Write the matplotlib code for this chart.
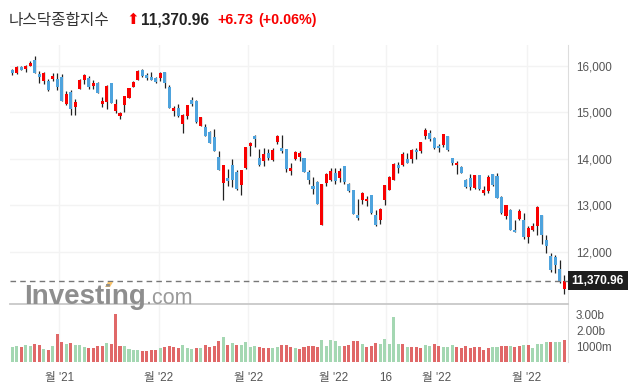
import numpy as np
import matplotlib.pyplot as plt
import matplotlib.transforms as mtransforms
from matplotlib.patches import Polygon

plt.rcParams['font.family'] = ['Liberation Sans', 'Noto Sans CJK KR', 'DejaVu Sans']

# daily candles (index points)
opens = [15914, 15856, 15971, 15942, 16007, 16130, 15827, 15683, 15669, 15719,
         15719, 15755, 15186, 15438, 15122, 15510, 15705, 15748, 15575, 15633,
         15186, 15230, 15633, 15035, 14927, 15150, 15316, 15554, 15705, 15914,
         15806, 15755, 15741, 15748, 15871, 15546, 15035, 15093, 14754, 14927,
         15266, 15251, 14711, 14682, 14574, 14459, 14034, 13480, 13595, 13855,
         13710, 13437, 13797, 14279, 14488, 14027, 13956, 14121, 13970, 14366,
         14229, 14207, 13739, 14000, 14041, 14013, 13725, 13415, 13509, 12581,
         13480, 13552, 13703, 13595, 13840, 13451, 13322, 12782, 13120, 13084,
         13214, 12782, 12689, 13106, 13322, 13552, 13862, 13862, 13991, 14002,
         14193, 14171, 14495, 14546, 14452, 14272, 14287, 14495, 14006, 13855,
         13826, 13538, 13588, 13372, 13646, 13264, 13307, 13667, 13624, 13178,
         12760, 12904, 12473, 12710, 12689, 12314, 12473, 12544, 12782, 12242,
         11896, 11881, 11630, 11190]
highs = [15935, 15993, 16007, 16029, 16115, 16216, 15899, 15878, 15719, 15842,
         15842, 15820, 15460, 15474, 15280, 15712, 15820, 15777, 15698, 15654,
         15323, 15597, 15633, 15280, 15006, 15352, 15525, 15669, 15914, 15928,
         15842, 15863, 15755, 15863, 15878, 15582, 15143, 15172, 14956, 15165,
         15323, 15266, 14898, 14747, 14589, 14632, 14164, 13855, 13775, 13991,
         13768, 13768, 14243, 14358, 14517, 14214, 14222, 14214, 14222, 14502,
         14502, 14207, 13912, 14157, 14164, 14013, 13753, 13617, 13523, 13466,
         13696, 13811, 13811, 13797, 13840, 13480, 13330, 13142, 13293, 13192,
         13228, 12905, 12948, 13430, 13624, 13912, 13934, 14135, 14128, 14200,
         14229, 14358, 14661, 14618, 14474, 14308, 14524, 14495, 14027, 13955,
         13847, 13574, 13682, 13660, 13660, 13408, 13646, 13682, 13703, 13200,
         13006, 12920, 12689, 12926, 12832, 12544, 12616, 12976, 12782, 12350,
         11967, 11918, 11824, 11500]
lows = [15798, 15834, 15921, 15863, 16007, 15856, 15626, 15604, 15467, 15676,
        15474, 15251, 15158, 14934, 14934, 15510, 15618, 15510, 15496, 15424,
        15107, 15064, 15193, 14978, 14862, 15014, 15316, 15539, 15705, 15770,
        15690, 15690, 15633, 15676, 15518, 15100, 14920, 14891, 14546, 14848,
        15136, 14776, 14697, 14488, 14330, 14157, 13768, 13106, 13422, 13394,
        13322, 13228, 13783, 14070, 14258, 13847, 13847, 13970, 13948, 14323,
        14114, 13718, 13653, 13977, 13941, 13710, 13466, 13250, 13019, 12570,
        13408, 13523, 13451, 13494, 13466, 13293, 12818, 12674, 13034, 12977,
        12800, 12544, 12602, 12998, 13322, 13538, 13696, 13840, 13912, 13898,
        14005, 14114, 14416, 14387, 14207, 14142, 14258, 14171, 13862, 13682,
        13696, 13379, 13322, 13350, 13336, 13221, 13271, 13408, 13163, 12810,
        12710, 12460, 12410, 12689, 12278, 12184, 12443, 12350, 12170, 11967,
        11558, 11536, 11320, 11080]
closes = [15856, 15971, 15921, 15999, 16065, 15856, 15770, 15849, 15482, 15784,
          15554, 15251, 15395, 15078, 15222, 15698, 15798, 15539, 15633, 15424,
          15244, 15568, 15193, 15179, 14985, 15352, 15525, 15654, 15892, 15791,
          15748, 15705, 15662, 15849, 15640, 15100, 15093, 14927, 14942, 15150,
          15186, 14798, 14898, 14495, 14337, 14157, 13768, 13855, 13523, 13537,
          13358, 13768, 14243, 14337, 14416, 13869, 14099, 14020, 14186, 14481,
          14171, 13783, 13804, 14142, 14128, 13725, 13545, 13350, 13034, 13466,
          13682, 13739, 13523, 13746, 13494, 13307, 12818, 12732, 13264, 13134,
          12832, 12581, 12926, 13430, 13603, 13891, 13811, 14099, 13912, 14186,
          14135, 14358, 14618, 14423, 14222, 14222, 14524, 14186, 13898, 13912,
          13703, 13394, 13386, 13646, 13358, 13322, 13610, 13430, 13163, 12832,
          12998, 12473, 12422, 12868, 12314, 12516, 12544, 12962, 12350, 12119,
          11594, 11702, 11342, 11371]

# volume in billions, colour flags (g = green, r = red)
volumes = [0.97, 1.03, 0.97, 1.10, 1.03, 1.16, 1.08, 0.82, 0.76, 1.03,
           1.79, 1.27, 1.16, 1.22, 1.08, 1.08, 0.95, 0.89, 0.89, 1.03,
           1.03, 1.20, 1.16, 3.06, 1.03, 1.03, 0.82, 0.76, 0.76, 0.70,
           0.70, 0.76, 0.76, 0.91, 0.97, 1.03, 0.97, 0.91, 1.08, 0.89,
           0.82, 0.89, 0.89, 1.08, 0.97, 1.03, 1.33, 1.60, 1.08, 1.20,
           1.08, 1.08, 1.27, 0.97, 1.03, 0.97, 0.89, 0.89, 0.89, 0.95,
           1.08, 1.08, 0.97, 0.89, 0.82, 0.95, 1.03, 1.03, 0.97, 1.41,
           1.03, 1.39, 1.31, 1.03, 1.03, 1.08, 1.35, 1.33, 1.16, 0.97,
           1.03, 1.22, 1.16, 1.48, 1.16, 2.87, 1.16, 1.16, 0.97, 0.97,
           0.97, 0.89, 1.08, 1.03, 1.16, 1.03, 0.97, 0.97, 1.08, 0.97,
           0.89, 1.03, 0.89, 0.97, 0.97, 0.76, 0.89, 0.97, 0.97, 1.03,
           1.03, 1.03, 0.97, 1.03, 1.08, 1.08, 0.89, 1.16, 1.16, 1.27,
           1.27, 1.27, 1.29, 1.39]
vol_flags = ("ggrggrrgrgrrgrgggrrrrgrrrggggrrrrgrrrrgggrgrrrrgrgrggggrrrggrrrgrrrrr"
             "gggggrrrrgrrrgggggrgrrrggrrgggrrrrrrrrggrrgrrgrggggrggrg")

tick_pos = [10.5, 32.6, 52.6, 71.5, 83.2, 94.6, 114.6]
tick_labels = ["월 '21", "월 '22", "월 '22", "월 '22", "16", "월 '22", "월 '22"]
price_ticks = [12000, 13000, 14000, 15000, 16000]
vol_ticks = [1, 2, 3]
vol_tick_labels = ["1000m", "2.00b", "3.00b"]

title = "나스닥종합지수"
last_price = 11370.96
change = "+6.73"
change_pct = "(+0.06%)"

RED = '#f80000'
BLUE = '#4ea3dd'
VRED = '#e06868'
VGREEN = '#a4d7b2'
GRID = '#f3f3f3'

W, H = 636, 391
fig = plt.figure(figsize=(W / 100, H / 100), dpi=100)


def box(x0, y0, x1, y1):
    return [x0 / W, 1 - y1 / H, (x1 - x0) / W, (y1 - y0) / H]


ax = fig.add_axes(box(10, 45, 567.7, 304))
axv = fig.add_axes(box(10, 304, 567.7, 362), sharex=ax)

x = np.arange(len(opens))
o = np.array(opens, float)
hi = np.array(highs, float)
lo = np.array(lows, float)
c = np.array(closes, float)
up = c >= o
cols = np.where(up, RED, BLUE)

# candles
ax.vlines(x, lo, hi, color='#222222', lw=0.9, zorder=2)
body = np.maximum(np.abs(c - o), 18)
ax.bar(x, body, bottom=np.minimum(o, c), width=0.68, color=cols, zorder=3)

# volume
vcols = [VGREEN if f == 'g' else VRED for f in vol_flags]
axv.bar(x, volumes, width=0.68, color=vcols, zorder=3)

ax.set_xlim(-0.51, 123.75)
ax.set_ylim(10868, 16453)
axv.set_ylim(0, 3.67)

for a in (ax, axv):
    for s in ('left', 'top', 'bottom'):
        a.spines[s].set_visible(False)
    a.spines['right'].set_color('#dddddd')
    a.yaxis.tick_right()
    a.tick_params(axis='y', length=0, pad=6, labelsize=8.4, labelcolor='#555555')
    a.tick_params(axis='x', length=0)
    a.set_xticks(tick_pos)
    a.grid(True, axis='x', color=GRID, lw=1, zorder=0)
axv.spines['top'].set_visible(True)
axv.spines['top'].set_color('#c8c8c8')
axv.spines['top'].set_linewidth(1.3)

ax.set_yticks(price_ticks)
ax.set_yticklabels([f"{p:,}" for p in price_ticks])
ax.grid(True, axis='y', color=GRID, lw=1, zorder=0)
ax.tick_params(axis='x', labelbottom=False)

axv.set_yticks(vol_ticks)
axv.set_yticklabels(vol_tick_labels)
axv.set_xticklabels(tick_labels)
axv.tick_params(axis='x', labelsize=8.4, labelcolor='#555555', pad=7)

# last price line and label
ax.axhline(last_price, color='#777777', ls=(0, (4, 3)), lw=1, zorder=4)
trans = mtransforms.blended_transform_factory(ax.transAxes, ax.transData)
ax.text(1.007, last_price, f"{last_price:,.2f}", transform=trans, ha='left', va='center',
        color='white', weight='bold', fontsize=8.6, zorder=6, clip_on=False,
        bbox=dict(boxstyle='square,pad=0.32', fc='#1e1e1e', ec='none'))

# watermark
fig.text(24 / W, 1 - 297 / H, "Investing", fontsize=20, weight='bold', color='#8e8e8e',
         va='center', ha='left', zorder=10)
fig.text(146 / W, 1 - 298 / H, ".com", fontsize=15.5, color='#9a9a9a',
         va='center', ha='left', zorder=10)
fig.patches.append(Polygon([[105 / W, 1 - 287 / H], [108 / W, 1 - 282 / H],
                            [113 / W, 1 - 282 / H], [110 / W, 1 - 287 / H]],
                           closed=True, transform=fig.transFigure, fc='#f6c26b', ec='none'))

# header
fig.text(9 / W, 1 - 20 / H, title, fontsize=11.3, color='#333333', va='center', ha='left')
fig.text(126 / W, 1 - 20 / H, "⬆", fontsize=11, color=RED, va='center', ha='left',
         family='DejaVu Sans')
fig.text(141 / W, 1 - 20 / H, f"{last_price:,.2f}", fontsize=11.2, weight='bold',
         color='#222222', va='center', ha='left')
fig.text(217 / W, 1 - 20 / H, change, fontsize=10.3, weight='bold', color=RED,
         va='center', ha='left')
fig.text(258 / W, 1 - 20 / H, change_pct, fontsize=10.3, weight='bold', color=RED,
         va='center', ha='left')

fig.savefig("out.png", dpi=100)
